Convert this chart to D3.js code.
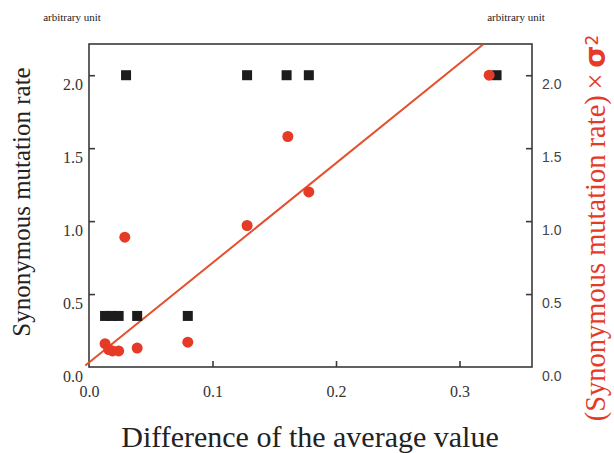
<html>
<head>
<script src="https://d3js.org/d3.v7.min.js"></script>
<style>
body { margin: 0; background: #fff; }
.serif { font-family: "Liberation Serif", "DejaVu Serif", serif; }
</style>
</head>
<body>
<div id="chart"></div>
<script>
// black squares: synonymous mutation rate (left axis)
var rateX = [0.013, 0.018, 0.024, 0.039, 0.080, 0.030, 0.128, 0.160, 0.178, 0.330];
var rateY = [0.35, 0.35, 0.35, 0.35, 0.35, 2.0, 2.0, 2.0, 2.0, 2.0];
// red circles: rate x sigma^2 (right axis)
var sigX = [0.013, 0.016, 0.019, 0.024, 0.039, 0.080, 0.029, 0.128, 0.161, 0.178, 0.324];
var sigY = [0.16, 0.12, 0.11, 0.11, 0.13, 0.17, 0.89, 0.97, 1.58, 1.20, 2.00];
// fitted line end points
var fitX = [-0.003, 0.319];
var fitY = [0.01, 2.21];
var xTicks = [0.0, 0.1, 0.2, 0.3];
var yTicks = [0.0, 0.5, 1.0, 1.5, 2.0];

var red = "#e53a26";
var pLeft = 89, pRight = 532, pTop = 44, pBottom = 367;

var svg = d3.select("#chart").append("svg")
    .attr("width", 614).attr("height", 453);

var x = d3.scaleLinear().domain([0, 0.3587]).range([pLeft, pRight]);
var y = d3.scaleLinear().domain([0, 2.214]).range([pBottom, pTop]);

// frame
svg.append("rect")
    .attr("x", pLeft).attr("y", pTop)
    .attr("width", pRight - pLeft).attr("height", pBottom - pTop)
    .attr("fill", "none").attr("stroke", "#3a3a3a").attr("stroke-width", 1.6);

// x axis (ticks inward)
var xa = svg.append("g").attr("transform", "translate(0," + pBottom + ")")
    .call(d3.axisBottom(x).tickValues(xTicks).tickFormat(d3.format(".1f")).tickSize(-6).tickPadding(19));
xa.select(".domain").remove();
xa.selectAll("line").attr("stroke", "#3a3a3a").attr("stroke-width", 1.6);
xa.selectAll("text").attr("class", "serif").style("font-size", "16px").attr("fill", "#333");
xa.selectAll(".tick").filter(d => d === 0).select("line").remove();

// left y axis
var ya = svg.append("g").attr("transform", "translate(" + pLeft + ",0)")
    .call(d3.axisLeft(y).tickValues(yTicks).tickFormat(d3.format(".1f")).tickSize(-6).tickPadding(6));
ya.select(".domain").remove();
ya.selectAll("line").attr("stroke", "#3a3a3a").attr("stroke-width", 1.6);
ya.selectAll("text").attr("class", "serif").style("font-size", "16px").attr("fill", "#333").attr("dy", "0.9em");
ya.selectAll(".tick").filter(d => d === 0).select("line").remove();

// right y axis
var ra = svg.append("g").attr("transform", "translate(" + pRight + ",0)")
    .call(d3.axisRight(y).tickValues(yTicks).tickFormat(d3.format(".1f")).tickSize(-6).tickPadding(10));
ra.select(".domain").remove();
ra.selectAll("line").attr("stroke", "#3a3a3a").attr("stroke-width", 1.6);
ra.selectAll("text").style("font-family", "'Liberation Sans', Arial, sans-serif")
    .style("font-size", "14px").attr("fill", "#444").attr("dy", "0.95em");
ra.selectAll(".tick").filter(d => d === 0).select("line").remove();

// fitted line
svg.append("line")
    .attr("x1", x(fitX[0])).attr("y1", y(fitY[0]))
    .attr("x2", x(fitX[1])).attr("y2", y(fitY[1]))
    .attr("stroke", "#e4502e").attr("stroke-width", 2);

// squares
var sq = 10;
svg.selectAll(".sq").data(rateX).enter().append("rect")
    .attr("class", "sq")
    .attr("x", (d, i) => x(d) - sq / 2)
    .attr("y", (d, i) => y(rateY[i]) - sq / 2)
    .attr("width", sq).attr("height", sq)
    .attr("fill", "#1c1c1c");

// circles
svg.selectAll(".dot").data(sigX).enter().append("circle")
    .attr("class", "dot")
    .attr("cx", d => x(d))
    .attr("cy", (d, i) => y(sigY[i]))
    .attr("r", 5.5)
    .attr("fill", red);

// unit labels
svg.append("text").attr("class", "serif").attr("x", 72).attr("y", 21)
    .attr("text-anchor", "middle").style("font-size", "11px").attr("fill", "#222")
    .text("arbitrary unit");
svg.append("text").attr("class", "serif").attr("x", 516).attr("y", 21)
    .attr("text-anchor", "middle").style("font-size", "11px").attr("fill", "#222")
    .text("arbitrary unit");

// axis titles
svg.append("text").attr("class", "serif")
    .attr("transform", "translate(30,202) rotate(-90)")
    .attr("text-anchor", "middle").style("font-size", "25px").attr("fill", "#222")
    .text("Synonymous mutation rate");

svg.append("text").attr("class", "serif")
    .attr("x", 310).attr("y", 447)
    .attr("text-anchor", "middle").style("font-size", "30px").attr("fill", "#222")
    .text("Difference of the average value");

var rt = svg.append("text").attr("class", "serif")
    .attr("transform", "translate(605,228) rotate(-90)")
    .attr("text-anchor", "middle").style("font-size", "28.5px").attr("fill", red);
rt.append("tspan").text("(Synonymous mutation rate)\u2009\u00d7\u2009");
rt.append("tspan").style("font-family", "'DejaVu Sans', sans-serif").style("font-weight", "bold").text("\u03c3");
rt.append("tspan").attr("dy", "-0.4em").style("font-size", "17px").style("font-family", "'DejaVu Sans', sans-serif").text("2");
</script>
</body>
</html>
